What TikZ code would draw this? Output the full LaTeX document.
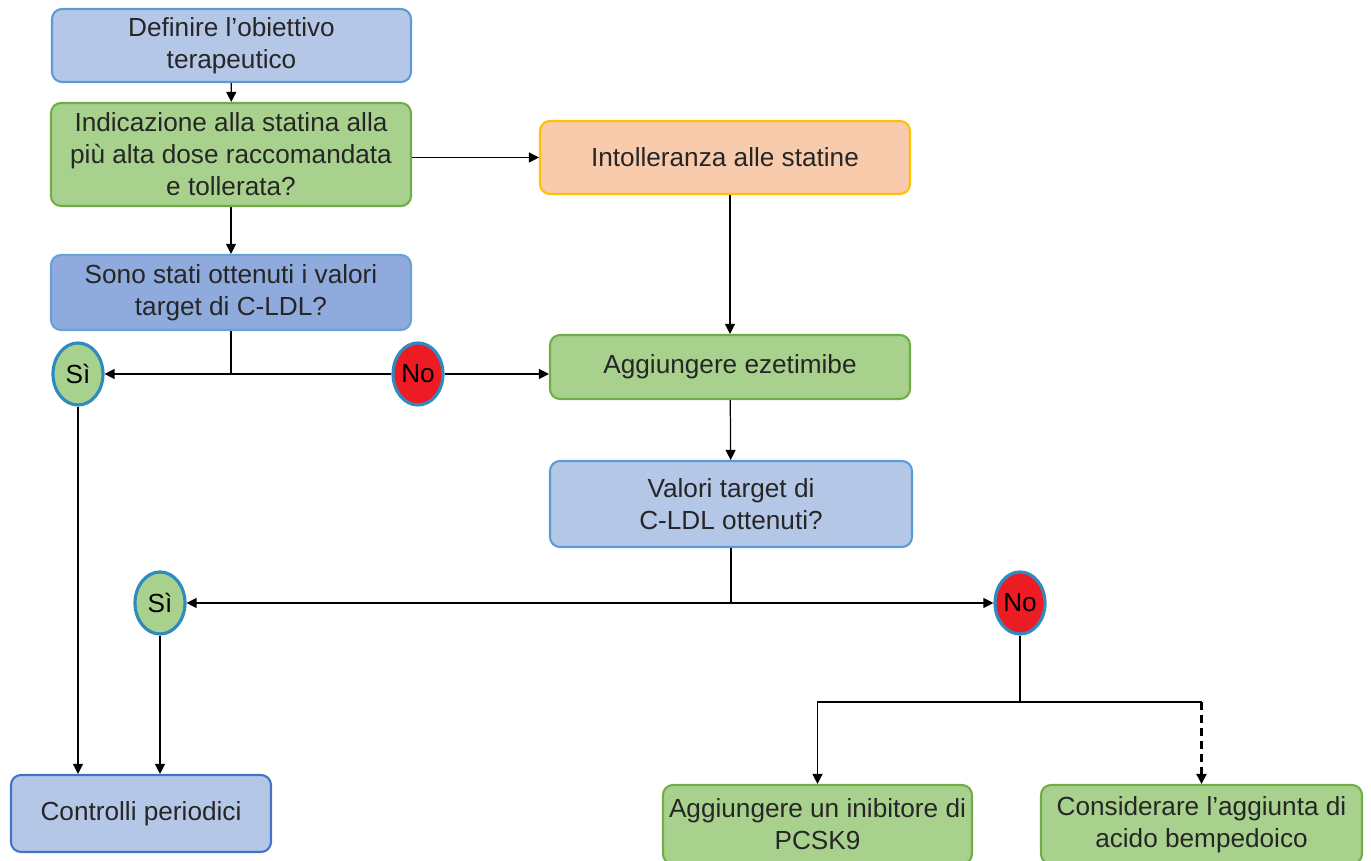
\documentclass[tikz,border=0pt]{standalone}
\usepackage{fontspec}
\setmainfont{Liberation Sans}
\usetikzlibrary{arrows.meta, shapes.geometric}

\definecolor{textgray}{HTML}{262626}
\definecolor{paleblue}{HTML}{B4C7E7}
\definecolor{midblue}{HTML}{8FAADC}
\definecolor{blueline}{HTML}{5B9BD5}
\definecolor{darkblueline}{HTML}{4472C4}
\definecolor{palegreen}{HTML}{A9D18E}
\definecolor{greenline}{HTML}{70AD47}
\definecolor{paleorange}{HTML}{F8CBAD}
\definecolor{orangeline}{HTML}{FFC000}
\definecolor{answerline}{HTML}{2E8BC0}
\definecolor{nored}{HTML}{ED1C24}

\begin{document}
\begin{tikzpicture}
            [->, >={Triangle[length=1mm,width=1mm]}, line width=0.35pt,
             font=\fontsize{7.45}{9.1}\selectfont,
             box/.style={rounded corners=1mm, line width=0.6pt, align=center, text=textgray, inner sep=0pt},
             bluebox/.style={box, fill=paleblue, draw=blueline},
             greenbox/.style={box, fill=palegreen, draw=greenline},
             answer/.style={shape=ellipse, draw=answerline, line width=0.9pt, minimum width=0.5cm, minimum height=0.62cm, inner sep=0pt}]
            \useasboundingbox (0, 0) rectangle (13.71, -8.61);

            \node[bluebox, minimum width=3.59cm, minimum height=0.73cm] (obiettivo) at (2.315, -0.455) {Definire l’obiettivo\\terapeutico};
            \node[greenbox, minimum width=3.6cm, minimum height=1.03cm] (statina) at (2.31, -1.545) {Indicazione alla statina alla\\più alta dose raccomandata\\e tollerata?};
            \node[box, fill=midblue, draw=blueline!70!midblue, minimum width=3.6cm, minimum height=0.75cm] (target1) at (2.31, -2.925) {Sono stati ottenuti i valori\\target di C-LDL?};
            \node[box, fill=paleorange, draw=orangeline, minimum width=3.7cm, minimum height=0.73cm] (intolleranza) at (7.25, -1.575) {Intolleranza alle statine};
            \node[answer, fill=palegreen] (si1) at (0.78, -3.74) {Sì};
            \node[answer, fill=nored] (no1) at (4.18, -3.74) {No};
            \node[greenbox, minimum width=3.6cm, minimum height=0.64cm] (ezetimibe) at (7.30, -3.67) {Aggiungere ezetimibe};
            \node[bluebox, minimum width=3.62cm, minimum height=0.86cm] (target2) at (7.31, -5.04) {Valori target di\\C-LDL ottenuti?};
            \node[answer, fill=palegreen] (si2) at (1.60, -6.03) {Sì};
            \node[answer, fill=nored] (no2) at (10.20, -6.03) {No};
            \node[box, fill=paleblue, draw=darkblueline, minimum width=2.6cm, minimum height=0.77cm] (controlli) at (1.41, -8.135) {Controlli periodici};
            \node[greenbox, minimum width=3.09cm, minimum height=0.79cm] (pcsk) at (8.175, -8.245) {Aggiungere un inibitore di\\PCSK9};
            \node[greenbox, minimum width=3.21cm, minimum height=0.79cm] (bempedoico) at (12.015, -8.245) {Considerare l’aggiunta di\\acido bempedoico};
            \coordinate (split) at (10.20, -7.02);

            \draw (obiettivo) -- (statina);
            \draw (statina.east |- intolleranza.west) -- (intolleranza.west);
            \draw (statina) -- (target1);
            \draw [-] (target1) -- (target1 |- si1);
            \draw (no1) -- (si1);
            \draw (no1) -- (no1 -| ezetimibe.west);
            \draw (intolleranza.south -| ezetimibe) -- (ezetimibe);
            \draw (ezetimibe) -- (target2);
            \draw [-] (target2) -- (target2 |- si2);
            \draw (target2 |- si2) -- (si2);
            \draw (target2 |- si2) -- (no2);
            \draw (si1) -- (si1 |- controlli.north);
            \draw (si2) -- (si2 |- controlli.north);
            \draw [-] (no2) -- (split);
            \draw (split) -| (pcsk.north);
            \draw [-] (split) -- (split -| bempedoico.north);
            \draw [line width=0.6pt, dash pattern=on 0.8mm off 0.5mm] (split -| bempedoico.north) -- (bempedoico.north);
        \end{tikzpicture}
\end{document}
